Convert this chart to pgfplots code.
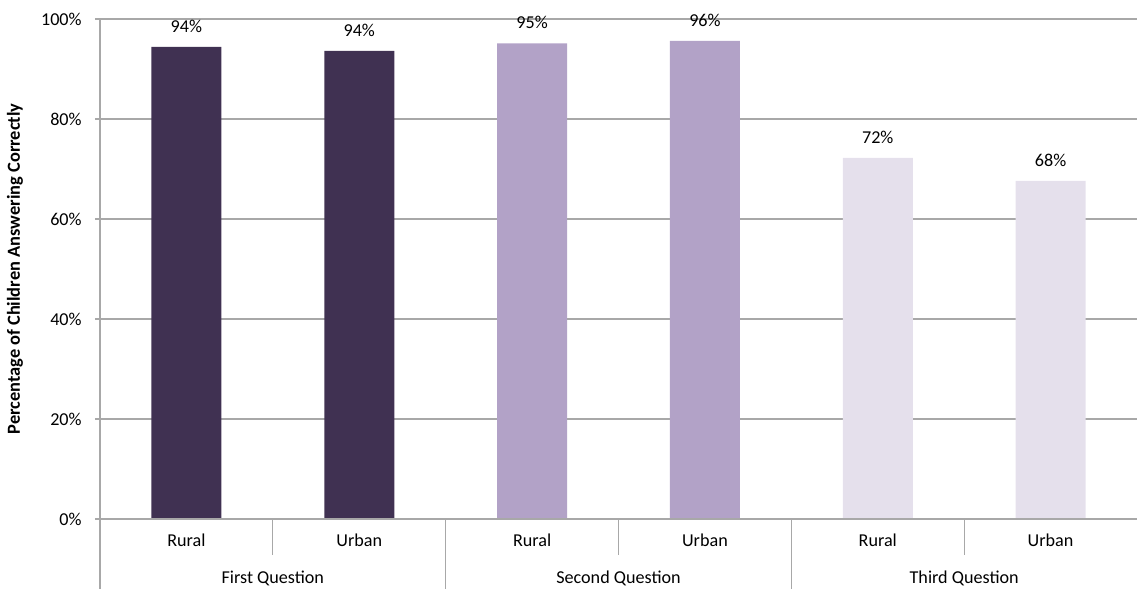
\documentclass[border=0pt]{standalone}
\usepackage{pgfplots}
\pgfplotsset{compat=1.18}
\usepackage{fontspec}
\setmainfont{Carlito}
\definecolor{pdark}{HTML}{403152}
\definecolor{pmid}{HTML}{B2A2C7}
\definecolor{plight}{HTML}{E5E0EC}
\definecolor{gridc}{HTML}{A8A8A8}
\begin{document}
\begin{tikzpicture}
\useasboundingbox (-75pt,-52.5pt) rectangle (777.75pt,389.25pt);
\begin{axis}[
  at={(0,0)}, anchor=south west,
  scale only axis, width=777.75pt, height=375pt,
  xmin=-0.5, xmax=5.5, ymin=0, ymax=100,
  axis line style={draw=none},
  axis x line*=bottom, axis y line*=left,
  ytick={0,20,40,60,80,100},
  yticklabels={0\%,20\%,40\%,60\%,80\%,100\%},
  xtick={0,1,2,3,4,5},
  xticklabels={Rural,Urban,Rural,Urban,Rural,Urban},
  x tick style={draw=none},
  y tick style={draw=gridc, line width=0.8pt},
  tick align=outside, major tick length=3.75pt,
  ymajorgrids, grid style={draw=gridc, line width=0.8pt},
  tick label style={font=\fontsize{13.6}{16}\selectfont, text=black},
  xticklabel style={yshift=-4pt},
  yticklabel style={xshift=-6.5pt},
  ybar, bar width=0.405, bar shift=0pt,
  clip=false,
  /pgf/number format/assume math mode=true,
  nodes near coords={\pgfmathprintnumber[fixed,precision=0]{\pgfplotspointmeta}\%},
  every node near coord/.append style={anchor=base, yshift=11pt, font=\fontsize{13.6}{16}\selectfont, text=black},
  ylabel={\bfseries Percentage of Children Answering Correctly},
  every axis y label/.style={at={(rel axis cs:0,0.5)}, xshift=-63.75pt, rotate=90, anchor=center, font=\fontsize{13.8}{16}\selectfont},
]
\addplot[fill=pdark, draw=none] coordinates {(0,94.4) (1,93.6)};
\addplot[fill=pmid, draw=none] coordinates {(2,95.1) (3,95.6)};
\addplot[fill=plight, draw=none] coordinates {(4,72.2) (5,67.6)};
% axis lines and separators
\draw[gridc, line width=0.8pt] (axis cs:-0.5,100) -- ([yshift=-52.5pt]axis cs:-0.5,0);
\draw[gridc, line width=0.8pt] (axis cs:-0.5,0) -- (axis cs:5.5,0);
\draw[gridc, line width=0.8pt] (axis cs:0.5,0) -- ([yshift=-27pt]axis cs:0.5,0);
\draw[gridc, line width=0.8pt] (axis cs:2.5,0) -- ([yshift=-27pt]axis cs:2.5,0);
\draw[gridc, line width=0.8pt] (axis cs:4.5,0) -- ([yshift=-27pt]axis cs:4.5,0);
\draw[gridc, line width=0.8pt] (axis cs:1.5,0) -- ([yshift=-52.5pt]axis cs:1.5,0);
\draw[gridc, line width=0.8pt] (axis cs:3.5,0) -- ([yshift=-52.5pt]axis cs:3.5,0);
\node[font=\fontsize{13.6}{16}\selectfont] at ([yshift=-44.25pt]axis cs:0.5,0) {First Question};
\node[font=\fontsize{13.6}{16}\selectfont] at ([yshift=-44.25pt]axis cs:2.5,0) {Second Question};
\node[font=\fontsize{13.6}{16}\selectfont] at ([yshift=-44.25pt]axis cs:4.5,0) {Third Question};
\end{axis}
\end{tikzpicture}
\end{document}
